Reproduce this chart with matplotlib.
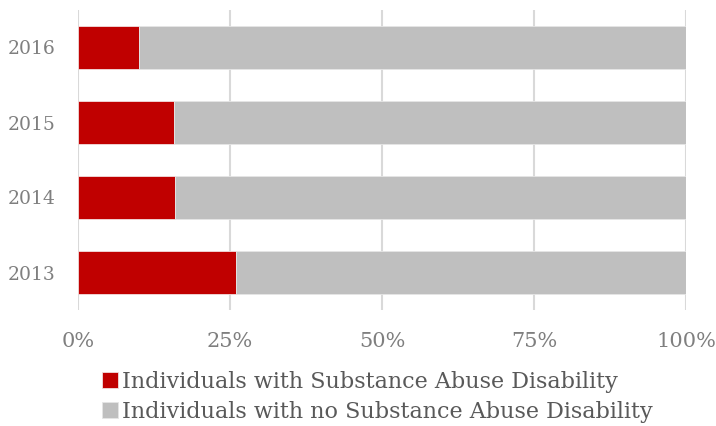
import matplotlib.pyplot as plt
import numpy as np

years = ["2013", "2014", "2015", "2016"]
with_sa = [26.0, 16.0, 15.8, 10.1]
without_sa = [100 - v for v in with_sa]

labels = ["Individuals with Substance Abuse Disability",
          "Individuals with no Substance Abuse Disability"]
colors = ["#c00000", "#bfbfbf"]

plt.rcParams["font.family"] = ["DejaVu Serif"]

fig = plt.figure(figsize=(7.16, 4.26), dpi=100)
ax = fig.add_axes([78 / 716, 1 - 310 / 426, 608 / 716, 300 / 426])

y = np.arange(len(years))
ax.barh(y, with_sa, height=0.575, color=colors[0], edgecolor="#f2dede",
        linewidth=0.6, label=labels[0], zorder=3)
ax.barh(y, without_sa, left=with_sa, height=0.575, color=colors[1],
        edgecolor="#e6e6e6", linewidth=0.6, label=labels[1], zorder=3)

ax.set_xlim(0, 100)
ax.set_ylim(-0.5, 3.5)
ax.set_xticks([0, 25, 50, 75, 100])
ax.set_xticklabels(["0%", "25%", "50%", "75%", "100%"])
ax.set_yticks(y)
ax.set_yticklabels(years)
ax.grid(axis="x", color="#d9d9d9", linewidth=1.5, zorder=0)
for s in ax.spines.values():
    s.set_visible(False)
ax.tick_params(length=0, colors="#7f7f7f", labelsize=13.5)
ax.tick_params(axis="x", pad=16, labelsize=15)
ax.tick_params(axis="y", pad=16)

leg = fig.legend(loc="upper left", bbox_to_anchor=(0.143, 0.129), ncol=1,
                 frameon=False, fontsize=16, handlelength=0.7, handleheight=0.7,
                 handletextpad=0.2, labelspacing=0.35, borderaxespad=0,
                 borderpad=0)
for t in leg.get_texts():
    t.set_color("#595959")

fig.savefig("out.png", dpi=100)
